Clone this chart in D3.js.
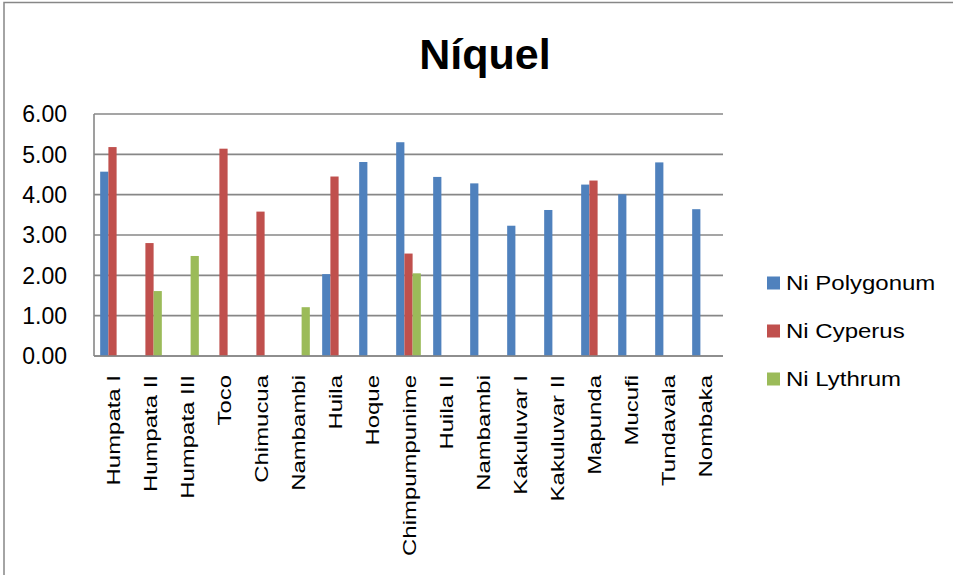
<!DOCTYPE html>
<html>
<head>
<meta charset="utf-8">
<script src="https://cdn.jsdelivr.net/npm/d3@7"></script>
<style>
  html, body { margin: 0; padding: 0; background: #fff; }
  svg { display: block; }
  text { font-family: "Liberation Sans", Arial, sans-serif; fill: #000; }
</style>
</head>
<body>
<svg id="chart" width="953" height="575"></svg>
<script>
const title = "Níquel";
const categories = ["Humpata I", "Humpata II", "Humpata III", "Toco", "Chimucua", "Nambambi", "Huila", "Hoque", "Chimpumpunime", "Huila II", "Nambambi", "Kakuluvar I", "Kakuluvar II", "Mapunda", "Mucufi", "Tundavala", "Nombaka"];
const seriesNames = ["Ni Polygonum", "Ni Cyperus", "Ni Lythrum"];
const polygonum = [4.57, null, null, null, null, null, 2.03, 4.81, 5.30, 4.44, 4.28, 3.23, 3.62, 4.25, 4.01, 4.80, 3.64];
const cyperus   = [5.18, 2.80, null, 5.14, 3.58, null, 4.45, null, 2.54, null, null, null, null, 4.35, null, null, null];
const lythrum   = [null, 1.61, 2.48, null, null, 1.21, null, null, 2.05, null, null, null, null, null, null, null, null];
const yTicks = [0, 1, 2, 3, 4, 5, 6];
const colors = ["#4F81BD", "#C0504D", "#9BBB59"];

const seriesValues = [polygonum, cyperus, lythrum];
const svg = d3.select("#chart");

// chart border
svg.append("rect").attr("x", 4).attr("y", 2.5).attr("width", 980).attr("height", 620)
  .attr("fill", "none").attr("stroke", "#878787").attr("stroke-width", 1.5);

const plot = { left: 94, right: 723, top: 114, bottom: 356 };

const x = d3.scaleBand().domain(d3.range(categories.length)).range([plot.left, plot.right]).paddingInner(0).paddingOuter(0);
const xs = d3.scaleBand().domain(d3.range(seriesNames.length)).range([0, x.bandwidth()]).paddingInner(0).paddingOuter(0.75);
const y = d3.scaleLinear().domain([0, 6]).range([plot.bottom, plot.top]);

// gridlines
svg.append("g").selectAll("line").data(yTicks).join("line")
  .attr("x1", plot.left).attr("x2", plot.right)
  .attr("y1", d => y(d)).attr("y2", d => y(d))
  .attr("stroke", "#878787").attr("stroke-width", 1.6);

// y axis line
svg.append("line").attr("x1", plot.left).attr("x2", plot.left)
  .attr("y1", plot.top).attr("y2", plot.bottom)
  .attr("stroke", "#878787").attr("stroke-width", 1.6);

// y tick labels
svg.append("g").selectAll("text").data(yTicks).join("text")
  .attr("x", 67).attr("y", d => y(d)).attr("dy", "0.36em")
  .attr("text-anchor", "end").style("font-size", "23px")
  .text(d => d3.format(".2f")(d));

// bars
const barData = [];
seriesValues.forEach((vals, s) => vals.forEach((v, i) => { if (v != null) barData.push({ s, i, v }); }));
svg.append("g").selectAll("rect").data(barData).join("rect")
  .attr("x", d => x(d.i) + xs(d.s))
  .attr("width", xs.bandwidth())
  .attr("y", d => y(d.v))
  .attr("height", d => y(0) - y(d.v))
  .attr("fill", d => colors[d.s]);

// bottom axis line
svg.append("line").attr("x1", plot.left).attr("x2", plot.right)
  .attr("y1", plot.bottom).attr("y2", plot.bottom)
  .attr("stroke", "#878787").attr("stroke-width", 1.6);

// category labels
svg.append("g").selectAll("text").data(categories).join("text")
  .attr("transform", (d, i) => `translate(${x(i) + x.bandwidth() / 2 + 1},375) rotate(-90) scale(1.26,1)`)
  .attr("text-anchor", "end").attr("dy", "0.35em")
  .style("font-size", "19px")
  .text(d => d);

// title
svg.append("text").attr("x", 485).attr("y", 69).attr("text-anchor", "middle")
  .style("font-size", "43px").style("font-weight", "bold").text(title);

// legend
const legY = [283, 331, 379];
const leg = svg.append("g").selectAll("g").data(seriesNames).join("g")
  .attr("transform", (d, i) => `translate(767,${legY[i]})`);
leg.append("rect").attr("x", 0).attr("y", -6.5).attr("width", 13).attr("height", 13)
  .attr("fill", (d, i) => colors[i]);
leg.append("text").attr("transform", "translate(19,0) scale(1.2,1)")
  .attr("dy", "0.36em").style("font-size", "20px").text(d => d);
</script>
</body>
</html>
